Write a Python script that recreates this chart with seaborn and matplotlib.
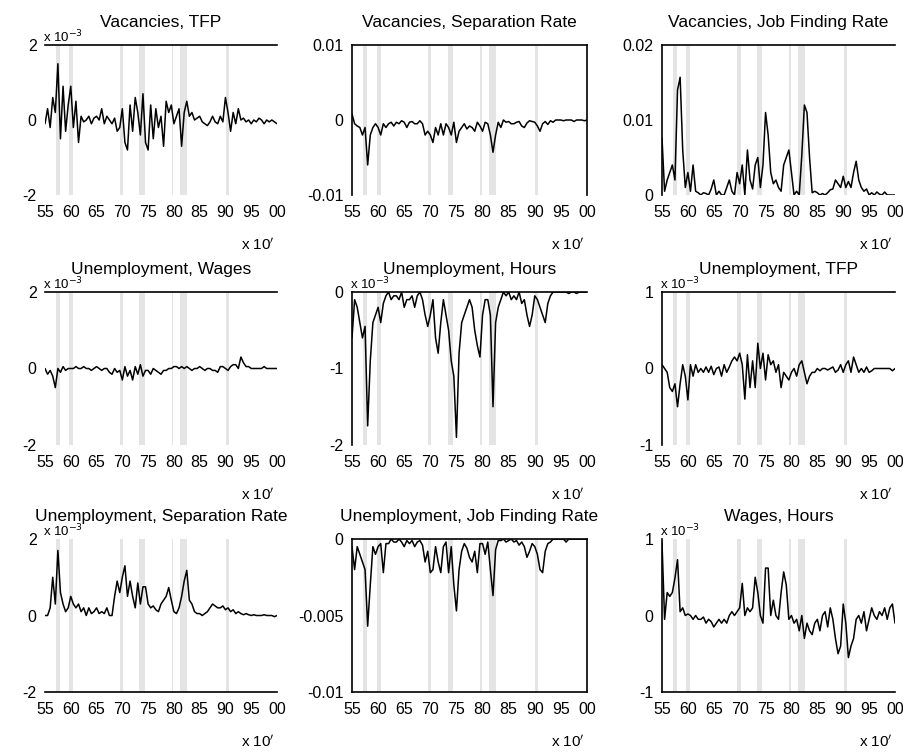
import numpy as np
import matplotlib.pyplot as plt
import seaborn as sns

sns.set_style("white")
plt.rcParams['font.family'] = ['Liberation Sans', 'DejaVu Sans']
plt.rcParams['text.color'] = 'black'
plt.rcParams['axes.titlecolor'] = 'black'

W, H = 904, 755

# half-year grid 1955.0 .. 2000.0
years = np.arange(1955.0, 2000.01, 0.5)

# recession bands as they appear in the picture
recessions = [(1957.1, 1957.9), (1959.7, 1960.5), (1969.5, 1970.2), (1973.3, 1974.4),
              (1979.6, 1979.9), (1981.2, 1982.6), (1990.1, 1990.7)]

xtick_pos = [1955, 1960, 1965, 1970, 1975, 1980, 1985, 1990, 1995, 2000]
xtick_lab = ['55', '60', '65', '70', '75', '80', '85', '90', '95', '00']

# values in the units shown on each y axis
vac_tfp = [-0.1, 0.3, -0.2, 0.6, 0.2, 1.5, -0.5, 0.9, -0.3, 0.4,
           0.9, -0.2, 0.5, -0.6, 0.1, -0.05, 0.0, 0.1, -0.1, 0.05,
           0.1, 0.0, 0.3, -0.1, 0.1, 0.0, -0.1, 0.05, -0.3, -0.2,
           0.3, -0.6, -0.8, 0.4, -0.3, 0.6, 0.2, -0.4, 0.7, -0.6,
           -0.8, 0.4, -0.5, 0.3, -0.2, 0.1, -0.7, 0.5, 0.2, 0.4,
           -0.1, 0.1, 0.3, -0.7, 0.2, 0.5, 0.1, 0.2, 0.0, 0.05,
           0.1, -0.05, -0.1, -0.15, -0.05, 0.1, -0.05, -0.1, 0.1, -0.05,
           0.6, 0.2, -0.3, 0.2, -0.1, 0.3, 0.0, 0.05, -0.05, 0.0,
           -0.1, 0.0, -0.05, 0.05, 0.0, -0.1, 0.0, -0.05, 0.0, -0.05,
           -0.1]

vac_sep = [0.0008, -0.0005, -0.0008, -0.001, -0.002, -0.001, -0.006, -0.002, -0.001, -0.0005,
           -0.001, -0.002, -0.0005, -0.001, -0.0005, -0.0003, -0.0008, -0.0003, -0.0005, -0.0001,
           -0.0003, -0.001, -0.0003, -0.0002, -0.0005, -0.0005, -0.0001, -0.0005, -0.002, -0.0015,
           -0.002, -0.003, -0.001, -0.002, -0.0005, -0.002, -0.0005, -0.001, -0.002, -0.0003,
           -0.003, -0.0015, -0.001, -0.0005, -0.0012, -0.0008, -0.001, -0.0015, -0.0003, -0.0008,
           -0.0015, -0.0003, -0.0005, -0.002, -0.0043, -0.002, -0.0003, -0.001, 0.0, -0.0003,
           -0.0002, -0.0005, -0.0005, -0.0003, -0.0002, -0.0008, -0.001, -0.0004, -0.0001, -0.0002,
           -0.0003, -0.0008, -0.0015, -0.0005, -0.0002, -0.0006, -0.0001, -0.0003, 0.0, 0.0,
           0.0, -0.0001, 0.0, 0.0, 0.0, -0.0002, 0.0, 0.0, 0.0, -0.0001,
           0.0]

vac_jfr = [0.0076, 0.0005, 0.002, 0.003, 0.004, 0.002, 0.014, 0.0157, 0.006, 0.001,
           0.003, 0.0005, 0.004, 0.0005, 0.0003, 0.0, 0.0003, 0.0002, 0.0, 0.0008,
           0.002, 0.0, 0.0005, 0.0, 0.0, 0.001, 0.002, 0.0005, 0.0, 0.003,
           0.0015, 0.004, 0.0, 0.006, 0.002, 0.0008, 0.004, 0.005, 0.001, 0.004,
           0.011, 0.008, 0.003, 0.0015, 0.002, 0.001, 0.0005, 0.004, 0.005, 0.006,
           0.003, 0.0, 0.0005, 0.0, 0.0053, 0.012, 0.011, 0.005, 0.0003, 0.0005,
           0.0003, 0.0, 0.0002, 0.0, 0.0003, 0.0007, 0.0008, 0.002, 0.0015, 0.001,
           0.0025, 0.001, 0.0018, 0.001, 0.003, 0.0045, 0.002, 0.001, 0.0005, 0.0008,
           0.0, 0.0003, 0.0, 0.0004, 0.0001, 0.0, 0.0004, 0.0, 0.0, 0.0,
           0.0]

un_wages = [0.0, -0.15, -0.05, -0.2, -0.5, 0.0, -0.1, 0.05, -0.05, 0.0,
            0.0, 0.0, 0.05, 0.0, 0.0, 0.05, 0.0, 0.0, -0.05, 0.0,
            0.05, 0.0, -0.05, 0.0, 0.0, -0.1, -0.15, 0.0, -0.1, -0.05,
            -0.3, 0.05, -0.2, -0.05, -0.3, 0.05, -0.15, 0.1, -0.2, -0.05,
            -0.05, -0.15, 0.0, -0.05, -0.1, -0.15, -0.05, -0.05, 0.0, 0.0,
            0.05, 0.05, 0.0, 0.05, 0.0, 0.05, 0.0, -0.05, 0.0, 0.0,
            0.05, 0.0, -0.05, 0.0, 0.0, -0.05, -0.05, -0.1, 0.05, 0.05,
            0.0, -0.05, 0.05, 0.1, 0.1, 0.0, 0.3, 0.15, 0.05, 0.05,
            0.0, 0.0, 0.0, 0.0, 0.0, 0.05, 0.0, 0.0, 0.0, 0.0,
            0.0]

un_hours = [-0.6, -0.1, -0.2, -0.4, -0.6, -0.45, -1.75, -0.9, -0.4, -0.3,
            -0.2, -0.4, -0.15, -0.05, 0.0, -0.1, -0.05, -0.05, -0.1, 0.0,
            -0.2, -0.1, -0.1, -0.05, -0.2, -0.05, 0.0, -0.1, -0.3, -0.45,
            -0.3, -0.1, -0.6, -0.8, -0.4, -0.1, -0.3, -0.5, -0.9, -1.1,
            -1.9, -0.8, -0.4, -0.3, -0.2, -0.1, -0.2, -0.5, -0.7, -0.85,
            -0.3, -0.1, -0.1, -0.3, -1.5, -0.4, -0.2, -0.1, 0.0, -0.05,
            0.0, -0.1, -0.05, -0.1, 0.0, -0.15, -0.1, -0.3, -0.45, -0.3,
            -0.05, -0.1, -0.2, -0.3, -0.4, -0.15, -0.05, 0.0, 0.0, 0.0,
            0.0, 0.0, 0.0, -0.02, 0.0, 0.0, -0.02, 0.0, 0.0, 0.0,
            0.0]

un_tfp = [0.05, 0.0, -0.05, -0.25, -0.3, -0.2, -0.5, -0.2, 0.05, -0.1,
          -0.41, 0.05, -0.1, 0.05, -0.05, 0.0, -0.05, 0.02, -0.05, 0.03,
          -0.08, 0.0, 0.02, -0.1, 0.05, -0.05, 0.02, 0.1, 0.15, 0.1,
          0.2, 0.05, -0.4, 0.18, -0.25, 0.1, -0.25, 0.33, 0.0, 0.2,
          -0.15, 0.18, 0.05, 0.1, -0.05, 0.05, -0.25, -0.05, -0.1, -0.15,
          -0.05, 0.0, -0.1, 0.05, 0.1, -0.05, -0.2, -0.1, -0.05, -0.05,
          0.0, -0.03, 0.0, 0.0, -0.02, 0.0, 0.02, -0.05, -0.02, 0.05,
          -0.05, 0.05, 0.1, -0.05, 0.15, 0.05, -0.05, 0.0, -0.05, 0.02,
          -0.05, -0.03, 0.0, 0.0, 0.0, 0.0, 0.0, 0.0, 0.0, -0.03,
          0.0]

un_sep = [0.0, 0.0, 0.2, 1.0, 0.3, 1.7, 0.6, 0.3, 0.1, 0.2,
          0.5, 0.3, 0.2, 0.3, 0.1, 0.2, 0.0, 0.2, 0.05, 0.1,
          0.2, 0.05, 0.1, 0.05, 0.2, 0.0, 0.0, 0.5, 0.9, 0.6,
          1.0, 1.3, 0.5, 0.9, 0.5, 0.2, 0.85, 0.3, 0.75, 0.75,
          0.3, 0.2, 0.25, 0.15, 0.1, 0.3, 0.4, 0.5, 0.73, 0.4,
          0.1, 0.05, 0.2, 0.5, 0.9, 1.18, 0.4, 0.3, 0.1, 0.05,
          0.05, 0.0, 0.05, 0.1, 0.2, 0.3, 0.25, 0.2, 0.2, 0.25,
          0.15, 0.2, 0.1, 0.15, 0.05, 0.1, 0.05, 0.02, 0.05, 0.02,
          0.0, 0.02, 0.0, 0.0, 0.0, 0.02, 0.0, 0.0, 0.0, -0.03,
          0.0]

un_jfr = [-0.0005, -0.002, -0.0005, -0.001, -0.0015, -0.002, -0.0057, -0.003, -0.0005, -0.001,
          -0.0005, -0.0003, -0.0022, -0.0003, -0.0003, 0.0, -0.0002, -0.0002, 0.0, -0.0002,
          -0.0005, -0.0001, -0.0003, -0.0001, -0.0005, -0.0002, -0.0001, -0.0004, -0.0015, -0.0008,
          -0.0022, -0.002, -0.0005, -0.0015, -0.0022, -0.0005, -0.0002, -0.0022, -0.0005, -0.003,
          -0.0047, -0.002, -0.0008, -0.0003, -0.0006, -0.0012, -0.0015, -0.0008, -0.0022, -0.0003,
          -0.0003, -0.001, -0.0002, -0.002, -0.0037, -0.0007, -0.0001, -0.0001, 0.0, -0.0002,
          -0.0001, 0.0, -0.0002, -0.0001, -0.0004, -0.0002, -0.0005, -0.0012, -0.0008, -0.0003,
          -0.0005, -0.001, -0.002, -0.0022, -0.0008, -0.0003, -0.0002, 0.0, 0.0, 0.0,
          0.0, 0.0, -0.0002, 0.0, 0.0, 0.0, 0.0, 0.0, 0.0, 0.0,
          0.0]

wages_hours = [0.95, -0.05, 0.3, 0.25, 0.3, 0.49, 0.73, 0.05, 0.1, 0.0,
               0.02, 0.0, -0.05, 0.0, -0.05, -0.05, -0.02, -0.1, -0.05, -0.08,
               -0.15, -0.1, -0.05, -0.1, -0.05, -0.1, 0.0, 0.05, 0.0, 0.05,
               0.1, 0.42, 0.0, 0.1, 0.05, 0.1, 0.5, 0.3, 0.0, -0.1,
               0.62, 0.62, 0.0, 0.2, 0.0, -0.05, 0.3, 0.57, 0.4, -0.05,
               0.0, -0.1, -0.05, -0.2, 0.0, -0.3, -0.1, -0.2, -0.25, -0.1,
               -0.05, -0.2, 0.0, 0.05, -0.15, 0.1, -0.05, -0.3, -0.5, -0.4,
               0.15, -0.1, -0.55, -0.4, -0.3, -0.05, 0.0, -0.1, 0.05, -0.2,
               -0.05, 0.1, 0.0, -0.05, 0.05, 0.0, 0.1, -0.05, 0.1, 0.15,
               -0.1]

titles = ['Vacancies, TFP', 'Vacancies, Separation Rate', 'Vacancies, Job Finding Rate',
          'Unemployment, Wages', 'Unemployment, Hours', 'Unemployment, TFP',
          'Unemployment, Separation Rate', 'Unemployment, Job Finding Rate', 'Wages, Hours']
series = [vac_tfp, vac_sep, vac_jfr, un_wages, un_hours, un_tfp, un_sep, un_jfr, wages_hours]
yticks = [[-2, 0, 2], [-0.01, 0, 0.01], [0, 0.01, 0.02],
          [-2, 0, 2], [-2, -1, 0], [-1, 0, 1],
          [-2, 0, 2], [-0.01, -0.005, 0], [-1, 0, 1]]
ytick_labels = [['-2', '0', '2'], ['-0.01', '0', '0.01'], ['0', '0.01', '0.02'],
                ['-2', '0', '2'], ['-2', '-1', '0'], ['-1', '0', '1'],
                ['-2', '0', '2'], ['-0.01', '-0.005', '0'], ['-1', '0', '1']]
has_exp = [True, False, False, True, True, True, True, False, True]
visible_spines = [['top'], ['left', 'top', 'right'], ['left', 'top'],
                  ['top'], ['left', 'top'], ['left', 'top'],
                  ['bottom'], ['left', 'top', 'right', 'bottom'], ['left', 'bottom']]

col_left = [45, 352, 662]
col_right = [277, 587, 895]
row_top = [45, 292, 539]
row_bottom = [195, 445, 692]

fig = plt.figure(figsize=(W / 100, H / 100), dpi=100)

for i in range(9):
    r, c = divmod(i, 3)
    x0, x1 = col_left[c], col_right[c]
    y0, y1 = row_top[r], row_bottom[r]
    ax = fig.add_axes([x0 / W, 1 - y1 / H, (x1 - x0) / W, (y1 - y0) / H])

    for a, b in recessions:
        ax.axvspan(a, b, color='#e4e4e4', lw=0, zorder=0)
    sns.lineplot(x=years, y=series[i], ax=ax, color='black', linewidth=1.1, zorder=2)

    ax.set_xlim(1955, 2000)
    ax.set_ylim(yticks[i][0], yticks[i][-1])
    ax.set_xticks(xtick_pos)
    ax.set_xticklabels(xtick_lab)
    ax.set_yticks(yticks[i])
    ax.set_yticklabels(ytick_labels[i])
    ax.tick_params(axis='both', length=0, labelsize=11.5, colors='black')
    ax.tick_params(axis='x', pad=7)
    ax.tick_params(axis='y', pad=6)
    ax.set_xlabel('')
    ax.set_ylabel('')
    for side in ['left', 'right', 'top', 'bottom']:
        ax.spines[side].set_visible(side in visible_spines[i])
        ax.spines[side].set_color('black')
        ax.spines[side].set_linewidth(1.2)
    ax.set_title(titles[i], fontsize=12.5, pad=13)

    # MATLAB-style exponent labels
    if has_exp[i]:
        fig.text((x0 - 2) / W, 1 - (y0 - 8) / H, r'x 10$^{-3}$', fontsize=9.5,
                 ha='left', va='center')
    fig.text((x1 - 2) / W, 1 - (y1 + 50) / H, r'x 10$^{\prime}$', fontsize=11,
             ha='right', va='center')

fig.savefig('out.png', dpi=100)
